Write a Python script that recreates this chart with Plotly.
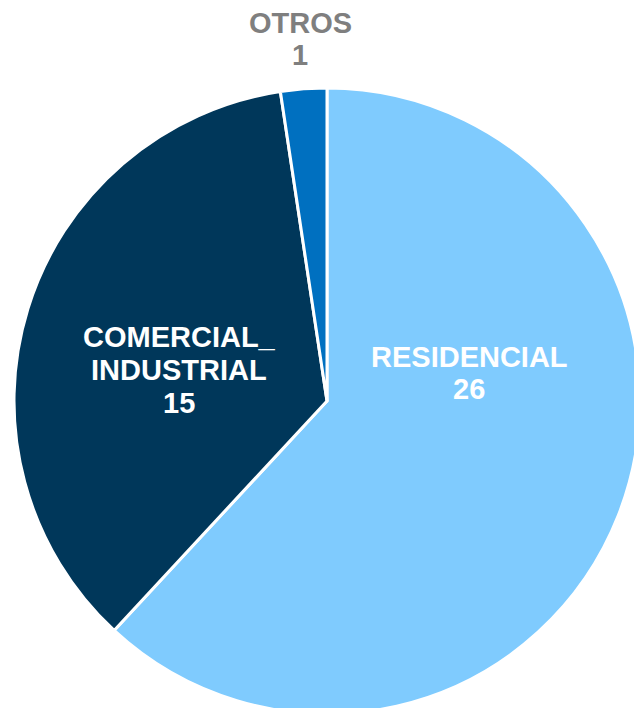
import plotly.graph_objects as go

categories = ["RESIDENCIAL", "COMERCIAL_INDUSTRIAL", "OTROS"]
label_lines = [["RESIDENCIAL"], ["COMERCIAL_", "INDUSTRIAL"], ["OTROS"]]
values = [26, 15, 1]
colors = ["#7FCBFE", "#00375A", "#0070C0"]
text_colors = ["#FFFFFF", "#FFFFFF", "#7F7F7F"]

# figure slightly larger than the window so the pie is cropped at right/bottom like the reference
W, H = 640, 714
# label block centres (pixels) as placed in the reference
label_px = [(469, 373), (179, 370), (300, 39)]
LINE_H = 33

fig = go.Figure(go.Pie(
    labels=categories,
    values=values,
    textinfo="none",
    sort=False,
    direction="clockwise",
    rotation=0,
    marker=dict(colors=colors, line=dict(color="#FFFFFF", width=3)),
    showlegend=False,
    hoverinfo="label+value",
    domain=dict(x=[14 / W, 1], y=[0, 1 - 88 / H]),
))

for lines, val, col, (px, py) in zip(label_lines, values, text_colors, label_px):
    rows = lines + [str(val)]
    n = len(rows)
    for i, row in enumerate(rows):
        y = py + (i - (n - 1) / 2) * LINE_H
        fig.add_annotation(
            x=px / W, y=1 - y / H, xref="paper", yref="paper",
            xanchor="center", yanchor="middle",
            text=f"<b>{row}</b>", showarrow=False,
            font=dict(family="Liberation Sans, Arial, sans-serif", size=29, color=col),
        )

fig.update_layout(
    width=W, height=H,
    margin=dict(l=0, r=0, t=0, b=0),
    paper_bgcolor="#FFFFFF",
    plot_bgcolor="#FFFFFF",
)

fig.write_html(
    "out.html",
    config={"displayModeBar": False},
    post_script=(
        "document.body.style.margin='0';"
        "document.body.style.overflow='hidden';"
        "document.documentElement.style.overflow='hidden';"
    ),
)
